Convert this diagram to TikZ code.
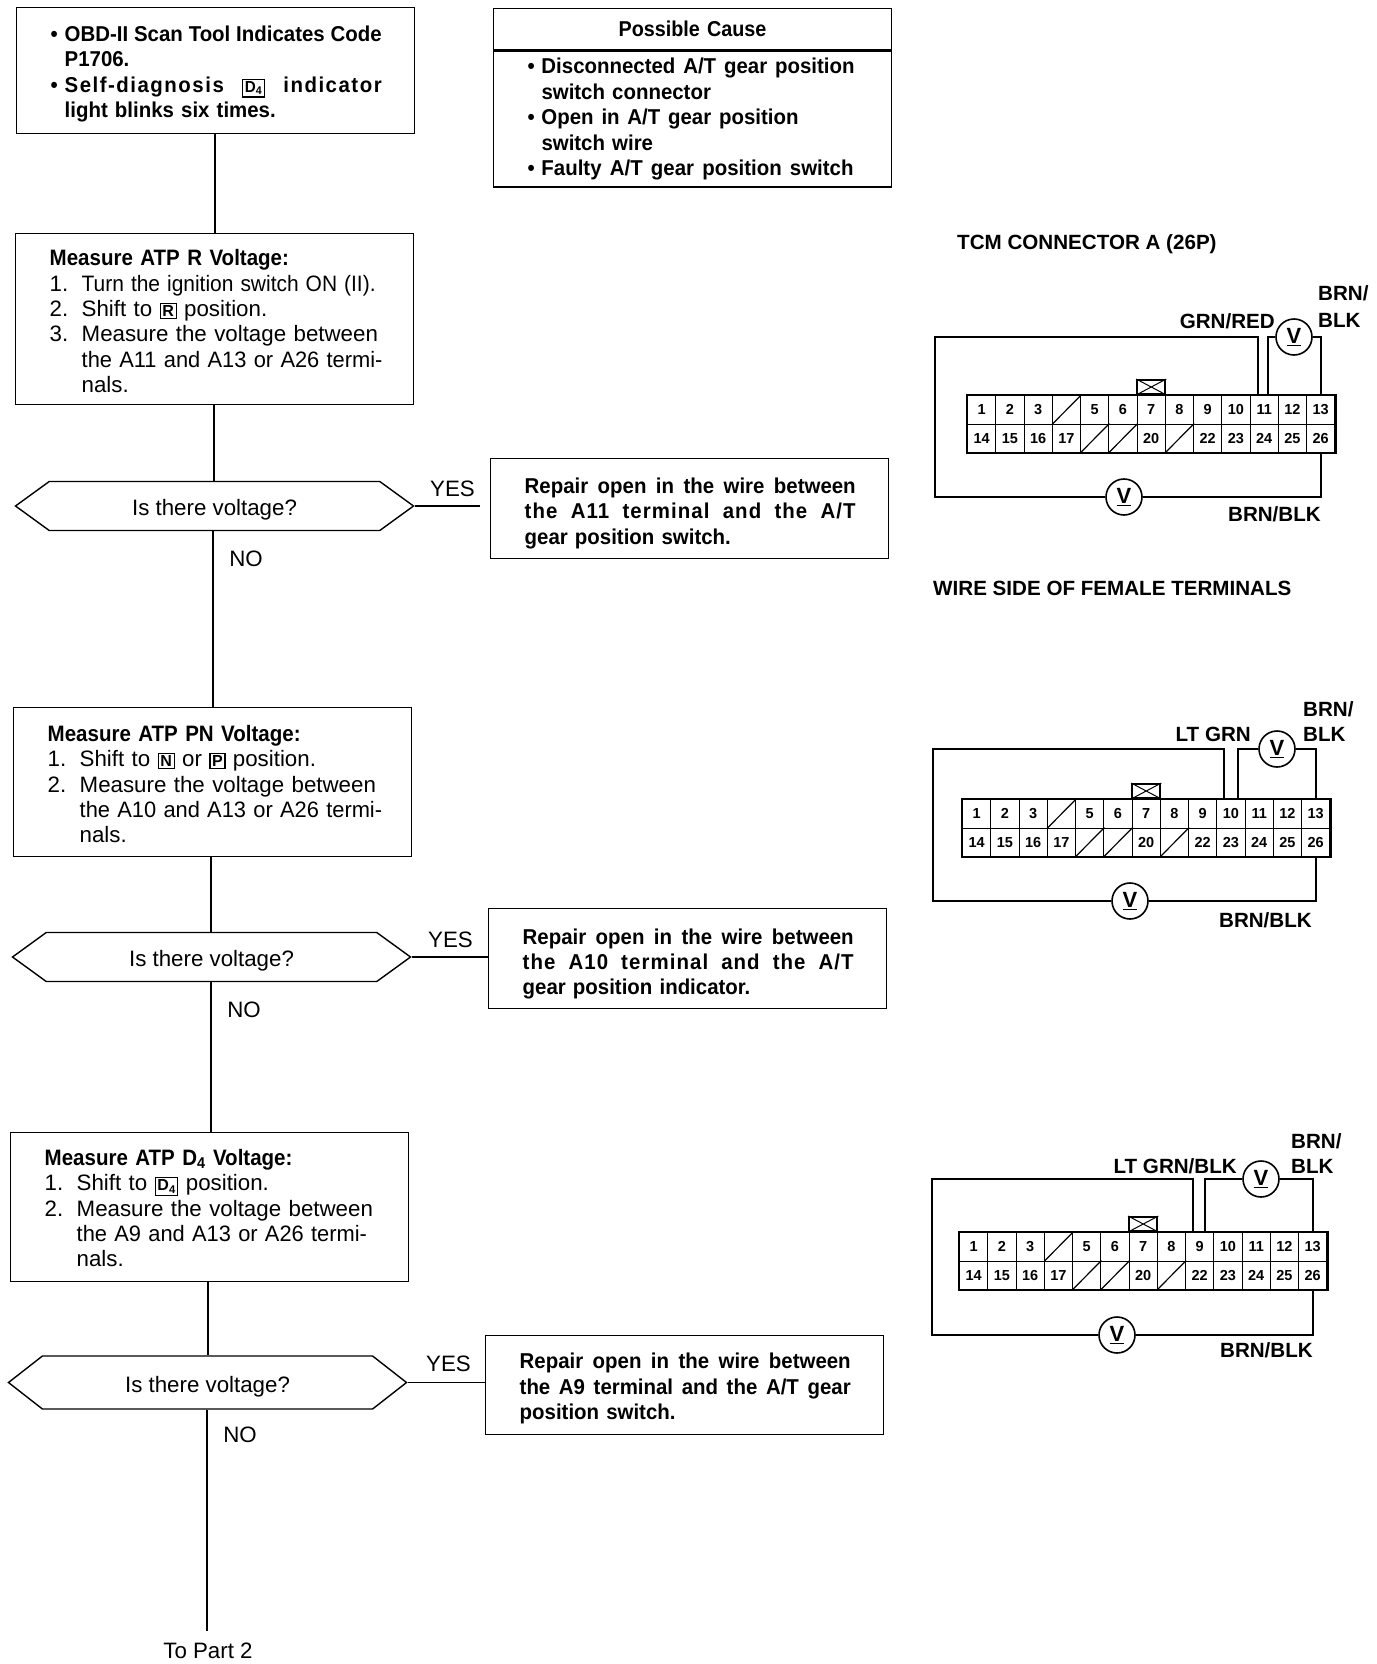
\documentclass[tikz,border=0pt]{standalone}
\usepackage{fontspec}
\setmainfont{Liberation Sans}
\newfontfamily\cbf[FakeStretch=0.95]{Liberation Sans}
\newfontfamily\cbh[FakeStretch=0.92]{Liberation Sans}
\usetikzlibrary{shapes.symbols,calc}
\newcommand\keyb[1]{{\setlength{\fboxsep}{1.5pt}\setlength{\fboxrule}{1.2pt}\fbox{\fontsize{16}{16}\selectfont\bfseries #1}}}
\newcommand\fl{\hspace*{20pt}}
\newcommand\bul{\fl\makebox[14pt][l]{\textbullet}}
\newcommand\ind{\hspace*{34pt}}
\newcommand\itm[1]{\fl\makebox[32pt][l]{#1}}
\newcommand\cnt{\hspace*{52pt}}
\newcommand\sline[2]{\makebox[#1pt][s]{\spaceskip=.28em plus 1fil minus .05em\relax #2}}
\newcommand\mhead[1]{\fl{\cbh\bfseries #1}}
\newcommand\squeeze[2]{\scalebox{#1}[1]{#2}}
\newcommand\dn[1]{\rule{0pt}{\dimexpr 17pt+#1pt\relax}}
\newcommand\lowtext[1]{\raisebox{-9.7pt}[0pt][0pt]{#1}}
\newcommand\tracked[1]{\addfontfeature{LetterSpace=#1}}
\tikzset{
  bodytext/.style={font=\fontsize{22.3}{25.4}\selectfont},
  boldtext/.style={font=\fontsize{21.5}{25.4}\selectfont\cbf\bfseries},
  flowbox/.style={draw,line width=1.4pt,align=left,text width=370pt,inner xsep=14pt,inner ysep=0pt,anchor=north west},
  decision/.style={draw,line width=1.4pt,signal,signal to=east and west,signal pointer angle=72,minimum width=398pt,minimum height=49pt,inner sep=0pt,bodytext},
  flowline/.style={line width=1.4pt},
  label/.style={font=\fontsize{20.6}{25}\selectfont\bfseries,inner sep=0pt},
  answer/.style={bodytext,inner sep=0pt},
  cell/.style={draw,line width=1.2pt,minimum width=28.25pt,minimum height=28.5pt,inner sep=0pt,anchor=north west,font=\fontsize{14.5}{15}\selectfont\bfseries},
  wire/.style={line width=2.3pt},
  meter/.style={draw,circle,line width=1.6pt,fill=white,minimum size=36pt,inner sep=0pt,font=\fontsize{22}{22}\selectfont\bfseries},
}
% #1 prefix, #2 left x, #3 top y
\newcommand\tcmconn[3]{%
  \foreach \n [count=\i from 0] in {1,2,3,,5,6,7,8,9,10,11,12,13}{
    \node[cell] (#1c\i) at ({#2+\i*28.25},{#3}) {\n};
  }
  \foreach \n [count=\i from 0] in {14,15,16,17,,,20,,22,23,24,25,26}{
    \node[cell] (#1d\i) at ({#2+\i*28.25},{#3+28.5}) {\n};
  }
  \draw[line width=1.2pt] (#1c3.south west) -- (#1c3.north east);
  \draw[line width=1.2pt] (#1d4.south west) -- (#1d4.north east);
  \draw[line width=1.2pt] (#1d5.south west) -- (#1d5.north east);
  \draw[line width=1.2pt] (#1d7.south west) -- (#1d7.north east);
  \draw[line width=2.5pt] (#1c0.north west) rectangle (#1d12.south east);
  \node[draw,line width=2pt,minimum width=28.25pt,minimum height=14pt,inner sep=0pt,anchor=south] (#1n) at (#1c6.north) {};
  \draw[line width=1pt] (#1n.north west) -- (#1n.south east) (#1n.south west) -- (#1n.north east);
}
% #1 prefix, #2 cell index for wires, #3 left off, #4 right off, #5 top y, #6 left x, #7 bottom y, #8 upper meter x, #9 lower meter x
\newcommand\tcmwires[9]{%
  \node[meter] (#1vt) at ({#8},{#5}) {\underline{V}};
  \node[meter] (#1vb) at ({#9},{#7}) {\underline{V}};
  \coordinate (#1tl) at ({#6},{#5});
  \coordinate (#1bl) at ({#6},{#7});
  \draw[wire] ([xshift=#3pt]#1c#2.north) |- (#1tl) -- (#1bl) -- (#1vb.west);
  \draw[wire] ([xshift=#4pt]#1c#2.north) |- (#1vt.west);
  \draw[wire] (#1vt.east) -| ([xshift=0.5pt]#1c12.north);
  \draw[wire] (#1vb.east) -| ([xshift=0.5pt]#1d12.south);
}
\begin{document}
\begin{tikzpicture}[x=1pt,y=-1pt]
\useasboundingbox (0,0) rectangle (1376,1664);
\fill[white] (0,0) rectangle (1376,1664);

% flow boxes
\node[flowbox,boldtext,minimum height=126pt] (start) at (16,7) {\dn{5.4}\bul\sline{317}{OBD-II Scan Tool Indicates Code}\\\ind P1706.\\\bul\sline{317}{\tracked{7}Self-diagnosis \keyb{D\textsubscript{4}} indicator}\\\ind light blinks six times.};
\node[flowbox,font=\fontsize{21.5}{25.4}\selectfont\cbh\bfseries,minimum height=41pt,align=center,anchor=north] (pchead) at (692.5,8) {Possible Cause};
\node[flowbox,boldtext,minimum height=136pt,anchor=north] (pcbody) at (pchead.south) {\bul\sline{313}{Disconnected A/T gear position}\\\ind switch connector\\\bul\sline{257}{Open in A/T gear position}\\\ind switch wire\\\bul\sline{312}{Faulty A/T gear position switch}};

\node[flowbox,bodytext,minimum height=171pt] (rbox) at (15,233) {\dn{3.2}\mhead{Measure ATP R Voltage:}\\\itm{1.}\squeeze{.94}{Turn the ignition switch ON (II).}\\\itm{2.}Shift to \keyb{R} position.\\\itm{3.}Measure the voltage between\\\cnt\squeeze{.98}{the A11 and A13 or A26 termi-}\\\cnt nals.};
\node[decision] (q1) at (214.5,506) {\lowtext{Is there voltage?}};
\node[flowbox,boldtext,minimum height=100pt] (fix1) at (490,458) {\dn{7.5}\fl\sline{331}{Repair open in the wire between}\\\fl\sline{331}{\tracked{5}the A11 terminal and the A/T}\\\fl gear position switch.};

\node[flowbox,bodytext,minimum height=149pt] (nbox) at (13,707) {\dn{3}\mhead{Measure ATP PN Voltage:}\\\itm{1.}Shift to \keyb{N} or \keyb{P} position.\\\itm{2.}Measure the voltage between\\\cnt\squeeze{.98}{the A10 and A13 or A26 termi-}\\\cnt nals.};
\node[decision] (q2) at (211.5,957) {\lowtext{Is there voltage?}};
\node[flowbox,boldtext,minimum height=100pt] (fix2) at (488,908) {\dn{9}\fl\sline{331}{Repair open in the wire between}\\\fl\sline{331}{\tracked{5}the A10 terminal and the A/T}\\\fl gear position indicator.};

\node[flowbox,bodytext,minimum height=149pt] (dbox) at (10,1132) {\dn{1}\mhead{Measure ATP D\textsubscript{4} Voltage:}\\\itm{1.}Shift to \keyb{D\textsubscript{4}} position.\\\itm{2.}Measure the voltage between\\\cnt\squeeze{.98}{the A9 and A13 or A26 termi-}\\\cnt nals.};
\node[decision,minimum height=53pt,signal pointer angle=76] (q3) at (207.5,1382.5) {\lowtext{Is there voltage?}};
\node[flowbox,boldtext,minimum height=99pt] (fix3) at (485,1335) {\dn{5.5}\fl\sline{331}{Repair open in the wire between}\\\fl\sline{331}{the A9 terminal and the A/T gear}\\\fl position switch.};

% connectors
\coordinate (gap1) at (480,506);
\node[bodytext,inner sep=0pt] (part2) at (208,1651) {To Part 2};
\coordinate (end) at (207,1631);
\draw[flowline] (start.south -| 215,0) -- (rbox.north -| 215,0);
\draw[flowline] (rbox.south -| 214,0) -- (q1.north -| 214,0);
\draw[flowline] (q1.south -| 213,0) -- (nbox.north -| 213,0);
\draw[flowline] (nbox.south -| 211,0) -- (q2.north -| 211,0);
\draw[flowline] (q2.south -| 211,0) -- (dbox.north -| 211,0);
\draw[flowline] (dbox.south -| 208,0) -- (q3.north -| 208,0);
\draw[flowline] (q3.south -| 207,0) -- (end);
\draw[flowline] (q1.east) -- (gap1);
\draw[flowline] (q2.east) -- (q2.east -| fix2.west);
\draw[flowline] (q3.east) -- (q3.east -| fix3.west);

\node[answer] (y1) at (452.5,489) {YES};
\node[answer] (n1) at (246,559) {NO};
\node[answer] (y2) at (450.5,940) {YES};
\node[answer] (n2) at (244,1010) {NO};
\node[answer] (y3) at (448.5,1363.5) {YES};
\node[answer] (n3) at (240,1435) {NO};

% connector diagrams
\node[label,anchor=west] (tcmt) at (957,244) {TCM CONNECTOR A (26P)};
\node[label,anchor=west] (wst) at (933,588) {WIRE SIDE OF FEMALE TERMINALS};

\tcmconn{a}{967}{395}
\tcmwires{a}{10}{-6}{4}{337}{935}{497}{1294}{1124}
\node[label,anchor=east] (al1) at (1275,321) {GRN/RED};
\node[label,anchor=west] (al2) at (1318,293) {BRN/};
\node[label,anchor=west] (al3) at (1318,320) {BLK};
\node[label,anchor=east] (al4) at (1321,514) {BRN/BLK};

\tcmconn{b}{962}{799}
\tcmwires{b}{9}{-7}{7}{749}{933}{901}{1277}{1130}
\node[label,anchor=east] (bl1) at (1251,734) {LT GRN};
\node[label,anchor=west] (bl2) at (1303,709) {BRN/};
\node[label,anchor=west] (bl3) at (1303,734) {BLK};
\node[label,anchor=east] (bl4) at (1312,920) {BRN/BLK};

\tcmconn{c}{959}{1232}
\tcmwires{c}{8}{-7}{5}{1179}{932}{1335}{1261}{1117}
\node[label,anchor=east] (cl1) at (1237,1166) {LT GRN/BLK};
\node[label,anchor=west] (cl2) at (1291,1141) {BRN/};
\node[label,anchor=west] (cl3) at (1291,1166) {BLK};
\node[label,anchor=east] (cl4) at (1313,1350) {BRN/BLK};
\end{tikzpicture}
\end{document}
